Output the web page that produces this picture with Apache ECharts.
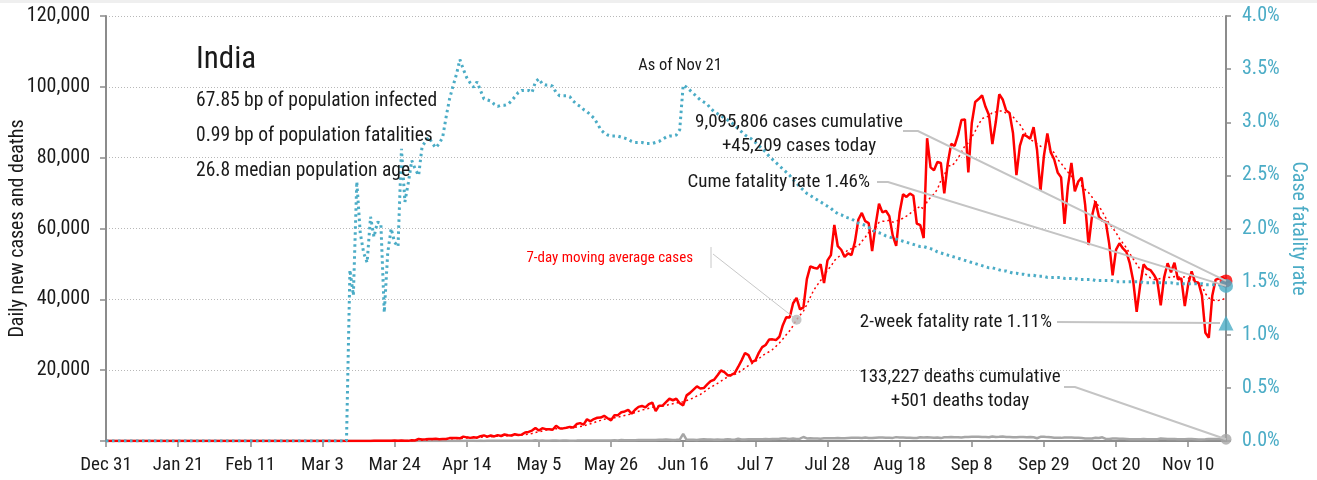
<!DOCTYPE html>
<html>
<head>
<meta charset="utf-8">
<title>India</title>
<script src="https://cdn.jsdelivr.net/npm/echarts@6/dist/echarts.min.js"></script>
<style>
  html, body { margin: 0; padding: 0; background: #ffffff; }
  #main { width: 1317px; height: 480px; }
</style>
</head>
<body>
<div id="main"></div>
<script>
// Daily new cases, one array per month (Dec 31, 2019 .. Nov 21, 2020)
const casesDec = [0];
const casesJan = [0,0,0,0,0,0,0,0,0,0, 0,0,0,0,0,0,0,0,0,0, 0,0,0,0,0,0,0,0,0,1, 0];
const casesFeb = [0,1,1,0,0,0,0,0,0,0, 0,0,0,0,0,0,0,0,0,0, 0,0,0,0,0,0,0,0,0];
const casesMar = [0,2,1,22,2,1,3,5,4,15, 6,11,20,11,6,23,14,38,50,86, 66,103,37,121,70,160,100,37,227,146, 601];
const casesApr = [424,486,560,579,609,484,573,565,813,871, 854,758,1243,1031,886,1061,922,1371,1580,1239, 1537,1292,1667,1408,1835,1607,1568,1902,1705,1801];
const casesMay = [2396,2564,2952,3656,2971,3602,3344,3339,3175,4311, 3592,3562,3726,3991,3808,4794,5049,4630,6147,5553, 6198,6568,6629,7113,6414,5843,7293,7300,8105,8336, 8782];
const casesJun = [7723,8821,9633,9889,9471,10438,10864,8442,9987,9985, 10956,11929,11502,11929,10667,10049,12881,13586,14516,15413, 14821,14933,15968,16922,17296,18552,19906,19459,18522,18653];
const casesJul = [19148,20903,22771,24850,24248,22252,22752,24879,26506,27114, 28637,28701,28498,29429,32695,34956,34884,38902,40425,37148, 37724,45720,49310,48916,48661,49931,44600,51000,52500,61000, 55000];
const casesAug = [54000,52000,52972,52509,56282,62538,64399,62064,61537,53601, 60963,66999,64553,65002,63490,57981,55079,64531,69652,68898, 69878,69239,61408,60975,57300,85500,77266,76472,78761,78512, 69921];
const casesSep = [78357,83883,83341,86432,90632,90802,75809,89706,95735,96551, 97570,94372,92071,83809,90123,97894,96424,93337,92605,86961, 75083,83347,86508,86052,85362,88600,82170,70589,80472,86821];
const casesOct = [81484,79476,75829,74442,61267,72049,78524,70496,73272,74383, 66732,55342,63509,67708,63371,62212,61871,55722,46790,54044, 55838,54366,53370,50129,45148,36470,43893,49881,48648,48268, 46963];
const casesNov = [45231,38310,46253,50209,47638,50357,45674,45903,38073,44281, 47905,44878,44684,41100,30548,29163,41000,45576,45882,46232, 45209];

// Daily new deaths
const deathsDec = [0];
const deathsJan = new Array(31).fill(0);
const deathsFeb = new Array(29).fill(0);
const deathsMar = [0,0,0,0,0,0,0,0,0,0, 1,0,1,0,0,0,1,0,1,1, 0,3,3,0,2,8,0,4,3,5, 3];
const deathsApr = [23,14,16,13,35,22,32,31,30,46, 35,36,26,44,43,37,23,36,24,42, 50,52,41,37,46,47,60,58,73,69];
const deathsMay = [77,92,83,195,89,126,103,95,120,111, 97,122,134,100,103,120,157,134,132,140, 148,137,142,148,147,146,194,175,265,193, 204];
const deathsJun = [200,217,260,273,286,297,261,266,331,357, 396,386,311,325,380,2003,336,336,375,306, 445,465,418,407,384,410,380,418,507,434];
const deathsJul = [379,613,442,425,467,482,475,487,519,551, 500,553,582,606,687,671,543,681,587,648, 1129,740,757,705,708,654,768,775,779,764, 853];
const deathsAug = [771,803,857,904,886,933,861,1007,871,834, 942,1007,996,944,941,876,1092,977,983,945, 912,836,848,1059,1023,1057,1021,948,971,819, 1045];
const deathsSep = [1043,1096,1089,1065,1016,1133,1115,1172,1201,1201, 1114,1136,1054,1290,1132,1174,1247,1133,1130,1053, 1085,1129,1141,1089,1124,1039,776,1179,1181,1095];
const deathsOct = [1069,940,903,884,986,971,964,926,918,816, 706,730,680,895,837,1033,579,587,717,702, 650,670,578,480,488,508,517,551,470,496, 490];
const deathsNov = [490,704,670,577,577,559,490,508,512,550, 547,519,447,449,474,585,584,584,562,590, 501];

// Cumulative case fatality rate, %
const cfrDec = [0];
const cfrJan = new Array(31).fill(0);
const cfrFeb = new Array(29).fill(0);
const cfrMar = [0,0,0,0,0,0,0,0,0,0, 1.61,1.37,2.44,1.96,1.77,1.68,2.11,1.92,2.06,2.05, 1.21,1.77,2.00,1.87,1.83,2.75,2.25,2.43,2.64,2.56, 2.50];
const cfrApr = [2.77,2.82,2.86,2.80,2.76,2.80,2.86,3.05,3.22,3.34, 3.45,3.59,3.50,3.42,3.37,3.33,3.38,3.30,3.22,3.21, 3.20,3.17,3.15,3.16,3.16,3.17,3.20,3.24,3.28,3.30];
const cfrMay = [3.30,3.30,3.28,3.38,3.41,3.36,3.35,3.35,3.34,3.28, 3.25,3.25,3.25,3.24,3.20,3.17,3.15,3.12,3.10,3.07, 3.04,2.99,2.93,2.90,2.88,2.87,2.87,2.87,2.86,2.85, 2.84];
const cfrJun = [2.82,2.81,2.81,2.81,2.80,2.80,2.80,2.81,2.82,2.84, 2.86,2.87,2.87,2.88,2.93,3.35,3.33,3.30,3.27,3.24, 3.21,3.19,3.17,3.13,3.10,3.08,3.06,3.04,3.02,3.00];
const cfrJul = [2.97,2.94,2.91,2.88,2.86,2.84,2.81,2.78,2.75,2.72, 2.68,2.65,2.62,2.59,2.56,2.53,2.50,2.46,2.43,2.39, 2.36,2.33,2.31,2.29,2.27,2.25,2.23,2.21,2.19,2.16, 2.14];
const cfrAug = [2.13,2.11,2.10,2.09,2.07,2.05,2.04,2.03,2.01,1.99, 1.97,1.96,1.95,1.93,1.92,1.91,1.90,1.89,1.88,1.87, 1.86,1.85,1.84,1.83,1.83,1.82,1.81,1.80,1.78,1.77, 1.76];
const cfrSep = [1.75,1.74,1.73,1.72,1.71,1.70,1.69,1.68,1.67,1.66, 1.65,1.64,1.63,1.63,1.62,1.61,1.60,1.60,1.59,1.58, 1.58,1.57,1.57,1.56,1.56,1.56,1.55,1.55,1.55,1.54];
const cfrOct = [1.54,1.54,1.54,1.54,1.53,1.53,1.53,1.53,1.52,1.52, 1.52,1.52,1.52,1.51,1.51,1.51,1.51,1.51,1.51,1.50, 1.50,1.50,1.50,1.50,1.50,1.50,1.50,1.49,1.49,1.49, 1.49];
const cfrNov = [1.49,1.49,1.49,1.49,1.49,1.48,1.48,1.48,1.48,1.48, 1.48,1.48,1.48,1.48,1.47,1.47,1.47,1.47,1.47,1.46, 1.46];

// Headline figures
const countryName = 'India';
const infectedBp = 67.85;
const fatalitiesBp = 0.99;
const medianAge = 26.8;
const asOfLabel = 'Nov 21';
const casesCumulative = 9095806;
const casesToday = 45209;
const cumeFatalityRate = 1.46;
const twoWeekFatalityRate = 1.11;
const deathsCumulative = 133227;
const deathsToday = 501;
const maPointerIndex = 201;

// Axis ticks
const leftTicks = { min: 0, max: 120000, interval: 20000 };
const rightTicks = { min: 0, max: 4, interval: 0.5 };
const dateTickEvery = 21;
const startDateUTC = Date.UTC(2019, 11, 31);
const MONTHS = ['Jan','Feb','Mar','Apr','May','Jun','Jul','Aug','Sep','Oct','Nov','Dec'];

const dailyCases = [].concat(casesDec, casesJan, casesFeb, casesMar, casesApr, casesMay, casesJun, casesJul, casesAug, casesSep, casesOct, casesNov);
const dailyDeaths = [].concat(deathsDec, deathsJan, deathsFeb, deathsMar, deathsApr, deathsMay, deathsJun, deathsJul, deathsAug, deathsSep, deathsOct, deathsNov);
const fatalityRate = [].concat(cfrDec, cfrJan, cfrFeb, cfrMar, cfrApr, cfrMay, cfrJun, cfrJul, cfrAug, cfrSep, cfrOct, cfrNov);

const dates = dailyCases.map((_, i) => {
  const d = new Date(startDateUTC + i * 86400000);
  return MONTHS[d.getUTCMonth()] + ' ' + d.getUTCDate();
});

// trailing 7-day mean of daily cases
const movingAvg7 = dailyCases.map((_, i) => {
  const win = dailyCases.slice(Math.max(0, i - 6), i + 1);
  return win.reduce((a, b) => a + b, 0) / win.length;
});

const last = dailyCases.length - 1;
const FONT = "'Liberation Sans Narrow', 'Roboto Condensed', 'DejaVu Sans Condensed', 'Noto Sans', sans-serif";
const TEAL = '#4bacc6';
const RED = '#ff0000';
const GREY = '#a6a6a6';
const AXIS = '#8c8c8c';
const INK = '#1a1a1a';

const fmt = n => n.toLocaleString('en-US');

const chart = echarts.init(document.getElementById('main'), null, { renderer: 'canvas' });

chart.setOption({
  animation: false,
  backgroundColor: '#ffffff',
  grid: { left: 106, right: 91, top: 16, bottom: 39, containLabel: false, outerBoundsMode: 'none' },
  xAxis: {
    type: 'category',
    data: dates,
    boundaryGap: false,
    axisLine: { lineStyle: { color: AXIS, width: 2 } },
    axisTick: { show: true, interval: dateTickEvery - 1, length: 6, lineStyle: { color: AXIS, width: 1.5 } },
    axisLabel: { interval: dateTickEvery - 1, margin: 15, color: INK, fontFamily: FONT, fontSize: 19 },
    splitLine: { show: false }
  },
  yAxis: [
    {
      type: 'value',
      min: leftTicks.min, max: leftTicks.max, interval: leftTicks.interval,
      name: 'Daily new cases and deaths',
      nameLocation: 'middle', nameGap: 78, nameRotate: 90, nameMoveOverlap: false,
      nameTextStyle: { color: INK, fontFamily: FONT, fontSize: 20 },
      axisLine: { show: true, lineStyle: { color: AXIS, width: 2 } },
      axisTick: { show: true, length: 6, lineStyle: { color: AXIS, width: 1.5 } },
      axisLabel: { margin: 16, color: INK, fontFamily: FONT, fontSize: 20,
        formatter: v => v === 0 ? '' : fmt(v) },
      splitLine: { show: true, lineStyle: { color: '#b8b8b8', width: 1, type: [1, 2] } }
    },
    {
      type: 'value',
      min: rightTicks.min, max: rightTicks.max, interval: rightTicks.interval,
      position: 'right',
      name: 'Case fatality rate',
      nameLocation: 'middle', nameGap: 62, nameRotate: -90, nameMoveOverlap: false,
      nameTextStyle: { color: TEAL, fontFamily: FONT, fontSize: 20 },
      axisLine: { show: true, lineStyle: { color: AXIS, width: 2 } },
      axisTick: { show: true, length: 5, lineStyle: { color: AXIS, width: 1.5 } },
      axisLabel: { margin: 16, color: TEAL, fontFamily: FONT, fontSize: 20,
        formatter: v => v.toFixed(1) + '%' },
      splitLine: { show: false }
    }
  ],
  series: [
    {
      name: 'Daily new deaths', type: 'line', data: dailyDeaths, yAxisIndex: 0,
      symbol: 'none', lineStyle: { color: GREY, width: 2.5 }, z: 2
    },
    {
      name: 'Daily new cases', type: 'line', data: dailyCases, yAxisIndex: 0,
      symbol: 'none', lineStyle: { color: RED, width: 2.5 }, z: 3
    },
    {
      name: '7-day moving average cases', type: 'line', data: movingAvg7, yAxisIndex: 0,
      symbol: 'none', smooth: false, lineStyle: { color: RED, width: 1.5, type: [2, 3] }, z: 4
    },
    {
      name: 'Case fatality rate', type: 'line', data: fatalityRate, yAxisIndex: 1,
      symbol: 'none', lineStyle: { color: TEAL, width: 3, type: [2.5, 3.5] }, z: 5
    },
    {
      name: 'MA pointer', type: 'scatter', yAxisIndex: 0, symbol: 'circle', symbolSize: 10,
      itemStyle: { color: '#b8b8b8' }, z: 6,
      data: [[maPointerIndex, movingAvg7[maPointerIndex]]]
    },
    {
      name: 'Deaths today', type: 'scatter', yAxisIndex: 0, symbol: 'circle', symbolSize: 11,
      itemStyle: { color: GREY }, z: 6, data: [[last, deathsToday]]
    },
    {
      name: 'Cases today', type: 'scatter', yAxisIndex: 0, symbol: 'circle', symbolSize: 13,
      itemStyle: { color: RED }, z: 6, data: [[last, casesToday]]
    },
    {
      name: 'Cume fatality rate', type: 'scatter', yAxisIndex: 1, symbol: 'circle', symbolSize: 14,
      itemStyle: { color: TEAL }, z: 7, data: [[last, cumeFatalityRate]]
    },
    {
      name: '2-week fatality rate', type: 'scatter', yAxisIndex: 1, symbol: 'triangle', symbolSize: 15,
      itemStyle: { color: TEAL }, z: 7, data: [[last, twoWeekFatalityRate]]
    }
  ]
});

// pixel positions of the end markers, taken from the chart's own scales
const toPx = (idx, v, axis) => chart.convertToPixel({ xAxisIndex: 0, yAxisIndex: axis }, [idx, v]);
const pCases = toPx(last, casesToday, 0);
const pCfr = toPx(last, cumeFatalityRate, 1);
const pTwoWeek = toPx(last, twoWeekFatalityRate, 1);
const pDeaths = toPx(last, deathsToday, 0);
const pMa = toPx(maPointerIndex, movingAvg7[maPointerIndex], 0);

const text = (id, str, x, y, size, color, align, weight) => ({
  type: 'text', id, x, y, z: 20,
  style: { text: str, font: (weight || 'normal') + ' ' + size + 'px ' + FONT, fill: color, align: align || 'left', verticalAlign: 'middle' }
});
const leader = (id, pts, width, color) => ({
  type: 'polyline', id, z: 15, silent: true,
  shape: { points: pts },
  style: { stroke: color || '#c4c4c4', lineWidth: width || 2, fill: null }
});

chart.setOption({
  graphic: [
    { type: 'rect', id: 'topband', z: 30, shape: { x: 0, y: 0, width: 1317, height: 3 }, style: { fill: '#efefef' } },
    text('title', countryName, 196, 60, 31, INK, 'left'),
    text('s1', infectedBp.toFixed(2) + ' bp of population infected', 196, 101, 19.5, INK),
    text('s2', fatalitiesBp.toFixed(2) + ' bp of population fatalities', 196, 136, 19.5, INK),
    text('s3', medianAge.toFixed(1) + ' median population age', 196, 171, 19.5, INK),
    text('asof', 'As of ' + asOfLabel, 680, 66, 16.5, INK, 'center'),
    text('c1', fmt(casesCumulative) + ' cases cumulative', 799, 122, 19, INK, 'center'),
    text('c2', '+' + fmt(casesToday) + ' cases today', 799, 146, 19, INK, 'center'),
    text('f1', 'Cume fatality rate ' + cumeFatalityRate.toFixed(2) + '%', 870, 182, 19, INK, 'right'),
    text('f2', '2-week fatality rate ' + twoWeekFatalityRate.toFixed(2) + '%', 1052, 322, 19, INK, 'right'),
    text('d1', fmt(deathsCumulative) + ' deaths cumulative', 960, 377, 19, INK, 'center'),
    text('d2', '+' + fmt(deathsToday) + ' deaths today', 960, 401, 19, INK, 'center'),
    text('ma', '7-day moving average cases', 693, 258, 15, RED, 'right'),
    leader('lc', [[903, 131], [918, 131], pCases]),
    leader('lf', [[877, 182], [888, 182], pCfr]),
    leader('lt', [[1057, 322], [pTwoWeek[0] - 6, pTwoWeek[1]]]),
    leader('ld', [[1064, 387], [1075, 387], pDeaths]),
    leader('lm1', [[711, 247], [711, 268]], 1, '#c8c8c8'),
    leader('lm2', [[713, 254], pMa], 1, '#c8c8c8')
  ]
});
</script>
</body>
</html>
